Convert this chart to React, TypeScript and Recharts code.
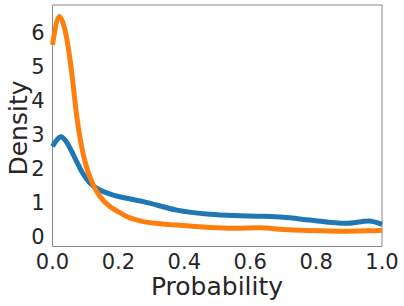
import React from 'react';
import { LineChart, Line, XAxis, YAxis, ReferenceArea } from 'recharts';

const probability = [0, 0.021, 0.026, 0.043, 0.058, 0.073, 0.089, 0.104, 0.124, 0.144, 0.175, 0.2, 0.225, 0.276, 0.377, 0.478, 0.55, 0.63, 0.7, 0.78, 0.89, 0.96, 1.0];
const blueDensity = [2.66, 2.93, 2.95, 2.78, 2.52, 2.22, 1.92, 1.7, 1.5, 1.38, 1.26, 1.19, 1.14, 1.04, 0.79, 0.67, 0.63, 0.61, 0.58, 0.5, 0.4, 0.47, 0.37];
const orangeDensity = [5.65, 6.48, 6.42, 5.85, 4.86, 3.59, 2.62, 2.03, 1.53, 1.19, 0.89, 0.74, 0.6, 0.45, 0.35, 0.28, 0.26, 0.27, 0.22, 0.19, 0.17, 0.18, 0.2];
const xTicks = [0, 0.2, 0.4, 0.6, 0.8, 1.0];
const yTicks = [0, 1, 2, 3, 4, 5, 6];

const data = probability.map((p, i) => ({ p, blue: blueDensity[i], orange: orangeDensity[i] }));

const Y_MIN = -0.28;
const Y_MAX = 6.82;
const textColor = '#262626';
const font = 'DejaVu Sans';

export default function App() {
  return (
    <div style={{ position: 'absolute', left: 0, top: 0 }}>
      <LineChart width={404} height={306} data={data} margin={{ top: 5, right: 22, left: 0, bottom: 0 }}>
        <XAxis
          dataKey="p"
          type="number"
          domain={[0, 1]}
          ticks={xTicks}
          tickFormatter={(v: number) => v.toFixed(1)}
          height={59.5}
          axisLine={false}
          tickLine={false}
          tick={{ fontSize: 21, fill: textColor, fontFamily: font }}
          label={{
            content: () => (
              <text x={217} y={295} textAnchor="middle" fontSize={25} fill={textColor} fontFamily={font}>Probability</text>
            ),
          }}
        />
        <YAxis
          type="number"
          domain={[Y_MIN, Y_MAX]}
          ticks={yTicks}
          width={52.5}
          axisLine={false}
          tickLine={false}
          tick={{ fontSize: 21, fill: textColor, fontFamily: font }}
          label={{
            content: () => (
              <text x={27} y={128} transform="rotate(-90 27 128)" textAnchor="middle" fontSize={25} fill={textColor} fontFamily={font}>Density</text>
            ),
          }}
        />
        <ReferenceArea x1={0} x2={1} y1={Y_MIN} y2={Y_MAX} fill="none" stroke="#888" strokeWidth={1} ifOverflow="visible" />
        <Line type="monotone" dataKey="blue" stroke="#1f77b4" strokeWidth={5} dot={false} isAnimationActive={false} />
        <Line type="monotone" dataKey="orange" stroke="#ff7f0e" strokeWidth={5} dot={false} isAnimationActive={false} />
      </LineChart>
    </div>
  );
}
